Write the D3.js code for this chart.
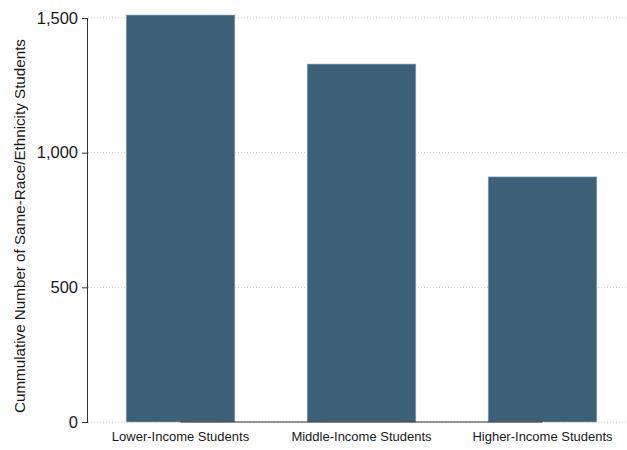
<!DOCTYPE html>
<html><head><meta charset="utf-8">
<script src="https://cdn.jsdelivr.net/npm/d3@7"></script>
<style>body{margin:0;background:#fff}svg{display:block}text{font-family:"Liberation Sans",Arial,sans-serif}</style>
</head><body>
<script>
const categories = ["Lower-Income Students","Middle-Income Students","Higher-Income Students"];
const values = [1511, 1329, 910];
const yTicks = [0, 500, 1000, 1500];
const yTitle = "Cummulative Number of Same-Race/Ethnicity Students";

const W = 627, H = 450;
const svg = d3.select("body").append("svg").attr("width", W).attr("height", H);
const x = d3.scaleBand().domain(categories).range([90, 633]).paddingInner(0.4).paddingOuter(0.2);
const y = d3.scaleLinear().domain([0, 1500]).range([422, 18]);
const axX = 88;

// gridlines
svg.append("g").selectAll("line").data(yTicks).join("line")
  .attr("x1", axX).attr("x2", W).attr("y1", d => y(d)).attr("y2", d => y(d))
  .attr("stroke", "#c8c8c8").attr("stroke-width", 1).attr("stroke-dasharray", "1,2");

// bars
svg.append("g").selectAll("rect").data(values).join("rect")
  .attr("x", (d, i) => x(categories[i])).attr("width", x.bandwidth())
  .attr("y", d => y(d)).attr("height", d => y(0) - y(d))
  .attr("fill", "#3d6079").attr("stroke", "#8fa6b8").attr("stroke-width", 0.6);

// dark baseline segment between band centers
svg.append("line")
  .attr("x1", x(categories[0]) + x.bandwidth() / 2)
  .attr("x2", x(categories[categories.length - 1]) + x.bandwidth() / 2)
  .attr("y1", y(0)).attr("y2", y(0))
  .attr("stroke", "#333").attr("stroke-width", 1.2);

// y axis
const ya = svg.append("g").attr("transform", `translate(${axX},0)`)
  .call(d3.axisLeft(y).tickValues(yTicks).tickFormat(d3.format(",")).tickSize(6).tickPadding(4));
ya.select(".domain").attr("stroke", "#333").attr("d", `M-0.5,${y(1500)}V${y(0)}`);
ya.selectAll(".tick line").attr("stroke", "#333");
ya.selectAll(".tick text").attr("font-size", 16.5).attr("fill", "#1a1a1a")
  .attr("font-family", '"Liberation Sans",Arial,sans-serif');

// x labels
svg.append("g").selectAll("text").data(categories).join("text")
  .attr("x", d => x(d) + x.bandwidth() / 2).attr("y", 441)
  .attr("text-anchor", "middle").attr("font-size", 13).attr("fill", "#1a1a1a")
  .text(d => d);

// y title
svg.append("text").attr("transform", `translate(25,${(y(0) + y(1500)) / 2 + 6}) rotate(-90)`)
  .attr("text-anchor", "middle").attr("font-size", 15.2).attr("fill", "#1a1a1a").text(yTitle);
</script>
</body></html>
